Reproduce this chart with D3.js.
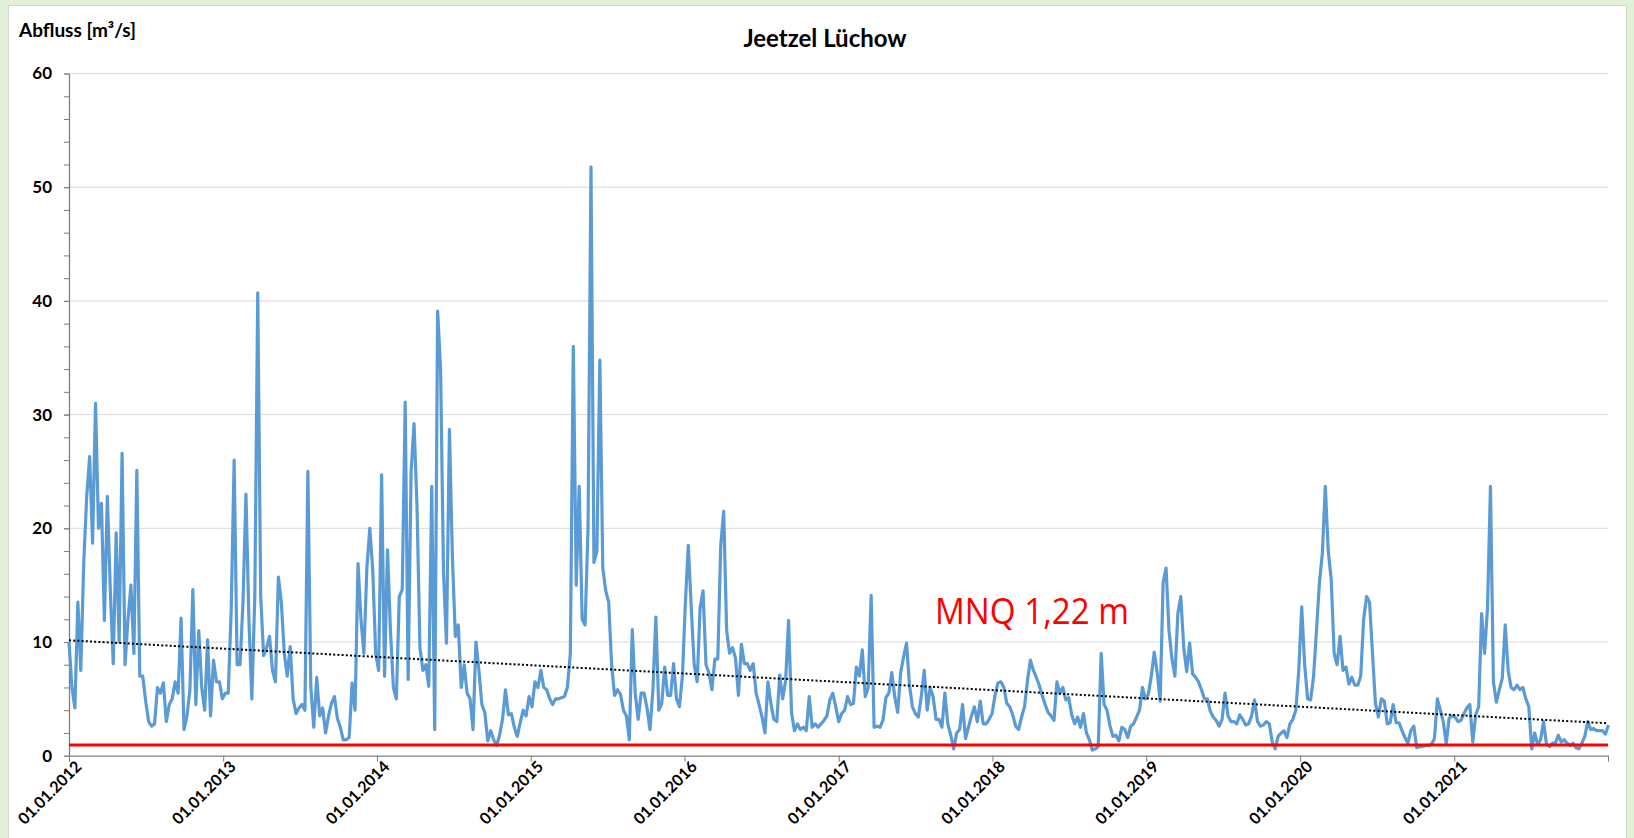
<!DOCTYPE html>
<html><head><meta charset="utf-8">
<script src="https://cdn.jsdelivr.net/npm/d3@7"></script>
<style>
html,body{margin:0;padding:0;background:#e2efd9;}
svg{display:block;}
</style></head><body>
<svg id="c" width="1634" height="838"></svg>
<script>
// ---------------- data ----------------
const chartTitle = "Jeetzel Lüchow";
const yAxisTitle = "Abfluss [m³/s]";
const seriesStart = "2012-01-01";   // first sample
const seriesStepDays = 7;           // weekly readings
// weekly discharge values [m³/s]
const flow = [
10.0,6.0,4.2,13.5,7.5,17.0,22.8,26.3,18.7,31.0,
20.0,22.2,11.9,22.8,14.6,8.1,19.6,10.0,26.6,8.0,
12.0,15.0,9.0,25.1,7.0,7.0,4.8,3.0,2.6,2.8,
6.0,5.5,6.4,3.0,4.5,5.0,6.5,5.5,12.1,2.3,
3.5,5.8,14.6,4.5,11.0,6.0,4.0,10.2,3.5,8.4,
6.5,6.5,5.0,5.5,5.5,12.8,26.0,8.0,8.0,13.5,
23.0,12.0,5.0,14.0,40.7,14.0,8.8,9.5,10.5,7.5,
6.5,15.7,13.5,9.0,7.0,9.6,5.0,3.7,4.2,4.5,
4.0,25.0,6.0,2.5,6.9,3.5,4.2,2.0,3.5,4.6,
5.2,3.3,2.5,1.4,1.4,1.6,6.4,4.0,16.9,12.0,
9.0,16.5,20.0,16.3,9.0,7.5,24.7,7.0,18.1,11.0,
6.0,5.0,14.0,14.6,31.1,6.7,25.0,29.2,22.0,9.5,
7.5,8.0,6.1,23.7,2.3,39.1,34.0,16.0,9.9,28.7,
17.5,10.5,11.5,6.0,8.0,5.5,5.0,2.3,10.0,7.5,
4.5,3.8,1.3,2.2,1.4,0.9,1.8,3.2,5.8,3.6,
3.7,2.5,1.7,2.9,4.0,3.5,5.2,4.3,6.5,6.0,
7.5,6.0,5.8,5.0,4.5,5.0,5.0,5.1,5.2,6.0,
9.0,36.0,15.0,23.7,12.0,11.5,20.0,51.8,17.0,18.0,
34.8,16.5,14.5,13.5,8.0,5.3,5.8,5.4,4.0,3.5,
1.4,11.1,5.5,3.2,5.5,5.5,4.2,2.3,5.8,12.2,
4.0,4.6,7.8,5.3,5.3,8.1,5.0,4.3,7.0,13.4,
18.5,13.0,8.0,6.5,13.0,14.5,8.0,7.3,5.8,8.5,
8.5,18.5,21.5,11.0,9.0,9.5,8.6,5.3,9.8,8.1,
8.1,7.5,8.1,5.5,4.5,3.4,2.0,6.5,4.6,3.2,
3.0,7.1,5.0,6.6,11.9,3.8,2.2,2.8,2.3,2.5,
2.2,5.2,2.5,2.8,2.5,2.8,3.1,3.5,4.9,5.5,
4.3,3.0,3.7,4.0,5.2,4.5,4.6,7.8,7.0,9.3,
5.2,6.0,14.1,2.5,2.6,2.5,3.1,5.1,5.5,7.3,
5.2,3.8,7.3,8.7,9.9,6.2,4.3,3.7,3.4,5.2,
7.5,4.0,6.0,5.2,3.2,3.2,2.5,5.5,2.8,1.8,
0.6,2.0,2.3,4.5,1.5,2.5,3.5,4.3,3.0,4.8,
2.8,2.8,3.2,3.7,5.3,6.4,6.5,6.0,4.6,4.3,
3.6,2.6,2.3,3.4,4.3,6.6,8.4,7.5,6.9,6.2,
5.3,4.5,3.8,3.5,3.1,6.5,5.5,6.0,4.9,5.1,
3.6,2.8,3.4,2.5,3.7,2.0,1.4,0.5,0.6,0.8,
9.0,4.5,4.0,2.6,1.7,1.8,1.3,2.5,2.3,1.6,
2.6,2.8,3.4,4.0,6.0,5.0,5.4,7.0,9.1,7.3,
4.8,15.2,16.5,11.0,8.5,7.0,12.5,14.0,9.5,7.4,
9.9,7.2,6.9,6.5,5.8,5.0,5.0,3.9,3.4,3.1,
2.6,3.2,5.5,3.5,3.0,3.0,2.8,3.6,3.2,2.7,
2.8,3.5,4.9,3.0,2.6,2.7,3.0,2.8,1.2,0.6,
1.7,2.0,2.2,1.6,2.8,3.2,4.0,7.5,13.1,8.0,
5.0,4.9,6.9,11.0,15.2,17.8,23.7,18.0,15.5,9.0,
8.0,10.5,7.5,7.8,6.3,6.9,6.2,6.2,7.0,12.0,
14.0,13.5,9.0,4.6,3.4,5.0,4.8,2.8,2.9,4.5,
2.9,2.9,2.2,1.6,1.1,2.2,2.6,0.7,0.8,0.8,
0.9,0.9,1.0,1.5,5.0,4.0,3.0,1.1,3.3,3.5,
3.4,3.0,3.1,3.7,4.2,4.5,1.2,3.6,4.3,12.5,
9.0,13.0,23.7,6.5,4.7,5.8,6.8,11.5,7.5,6.0,
5.8,6.2,5.8,6.0,5.0,4.3,0.6,2.0,1.0,1.4,
3.0,1.0,0.8,1.1,1.1,1.8,1.2,1.4,1.1,0.9,
1.1,0.7,0.6,1.1,1.7,3.0,2.3,2.4,2.2,2.2,
2.2,1.9,2.7
];
const mnqValue = 0.95;               // red reference line
const mnqLabel = "MNQ 1,22 m";
const trendStart = 10.15;            // linear trend at start of range
const trendEnd = 2.85;               // linear trend at end of range
const xDomain = ["2012-01-01", "2022-01-01"];
const xTickDates = ["2012-01-01","2013-01-01","2014-01-01","2015-01-01","2016-01-01","2017-01-01","2018-01-01","2019-01-01","2020-01-01","2021-01-01","2022-01-01"];
const xTickLabels = ["01.01.2012","01.01.2013","01.01.2014","01.01.2015","01.01.2016","01.01.2017","01.01.2018","01.01.2019","01.01.2020","01.01.2021",""];
const yMajorTicks = [0,10,20,30,40,50,60];
const yMinorTicks = [0,2,4,6,8,10,12,14,16,18,20,22,24,26,28,30,32,34,36,38,40,42,44,46,48,50,52,54,56,58,60];

// ---------------- layout ----------------
const W = 1634, H = 838;
const plot = {left: 69, right: 1608, top: 73.5, bottom: 755.7};
const parse = d3.utcParse("%Y-%m-%d");
const svg = d3.select("#c");

svg.append("rect").attr("x", 8.5).attr("y", 5.5).attr("width", 1618).attr("height", 840)
  .attr("fill", "#ffffff").attr("stroke", "#d0d8c8").attr("stroke-width", 1);

const x = d3.scaleUtc().domain(xDomain.map(parse)).range([plot.left, plot.right]);
const y = d3.scaleLinear().domain([0, 60]).range([plot.bottom, plot.top]);

const t0 = parse(seriesStart);
const series = flow.map((v, i) => ({date: d3.utcDay.offset(t0, i * seriesStepDays), v}));

const labelFont = "Lato, 'Open Sans', sans-serif";

// gridlines
svg.append("g").selectAll("line").data(yMajorTicks.filter(d => d > 0)).join("line")
  .attr("x1", plot.left).attr("x2", plot.right)
  .attr("y1", d => y(d)).attr("y2", d => y(d))
  .attr("stroke", "#d9d9d9").attr("stroke-width", 1);

// y axis minor ticks
const yMinor = svg.append("g").attr("transform", `translate(${plot.left},0)`)
  .call(d3.axisLeft(y).tickValues(yMinorTicks).tickSize(5).tickFormat(""));
yMinor.select(".domain").remove();
yMinor.selectAll("line").attr("stroke", "#7f7f7f");

// y axis with labels
const yAx = svg.append("g").attr("transform", `translate(${plot.left},0)`)
  .call(d3.axisLeft(y).tickValues(yMajorTicks).tickSize(5).tickPadding(12).tickSizeOuter(0));
yAx.select(".domain").attr("stroke", "#7f7f7f").attr("stroke-width", 1.3);
yAx.selectAll("line").attr("stroke", "#7f7f7f");
yAx.selectAll("text").attr("font-family", labelFont).attr("font-weight", "bold")
  .attr("font-size", 17).attr("fill", "#000");

// x axis
const lbl = new Map(xTickDates.map((d, i) => [+parse(d), xTickLabels[i]]));
const xAx = svg.append("g").attr("transform", `translate(0,${plot.bottom})`)
  .call(d3.axisBottom(x).tickValues(xTickDates.map(parse)).tickSize(6).tickSizeOuter(0)
    .tickFormat(d => lbl.get(+d)));
xAx.select(".domain").attr("stroke", "#7f7f7f").attr("stroke-width", 1.3);
xAx.selectAll("line").attr("stroke", "#7f7f7f");
xAx.selectAll("text").attr("font-family", labelFont).attr("font-weight", "bold")
  .attr("font-size", 16).attr("fill", "#000")
  .attr("text-anchor", "end").attr("dy", null).attr("y", 0)
  .attr("transform", "translate(13,12) rotate(-45)");

// data line
const line = d3.line().x(d => x(d.date)).y(d => y(d.v));
svg.append("path").datum(series).attr("d", line)
  .attr("fill", "none").attr("stroke", "#5b9bd5").attr("stroke-width", 3.2)
  .attr("stroke-linejoin", "round");

// MNQ line
svg.append("line").attr("x1", plot.left).attr("x2", plot.right)
  .attr("y1", y(mnqValue)).attr("y2", y(mnqValue))
  .attr("stroke", "#ff0000").attr("stroke-width", 3);

// trend line
svg.append("line")
  .attr("x1", x(parse(xDomain[0]))).attr("y1", y(trendStart))
  .attr("x2", x(parse(xDomain[1]))).attr("y2", y(trendEnd))
  .attr("stroke", "#000").attr("stroke-width", 2).attr("stroke-dasharray", "2,2.2");

// texts
svg.append("text").attr("x", 825).attr("y", 47).attr("text-anchor", "middle")
  .attr("font-family", labelFont).attr("font-weight", "bold").attr("font-size", 24)
  .attr("fill", "#000").text(chartTitle);
svg.append("text").attr("x", 19).attr("y", 36.5)
  .attr("font-family", labelFont).attr("font-weight", "bold").attr("font-size", 19)
  .attr("fill", "#000").text(yAxisTitle);
svg.append("text").attr("x", 935).attr("y", 624)
  .attr("font-family", "'Open Sans', sans-serif").attr("font-size", 36)
  .attr("textLength", 194).attr("lengthAdjust", "spacingAndGlyphs")
  .attr("fill", "#ff0000").text(mnqLabel);
</script>
</body></html>
